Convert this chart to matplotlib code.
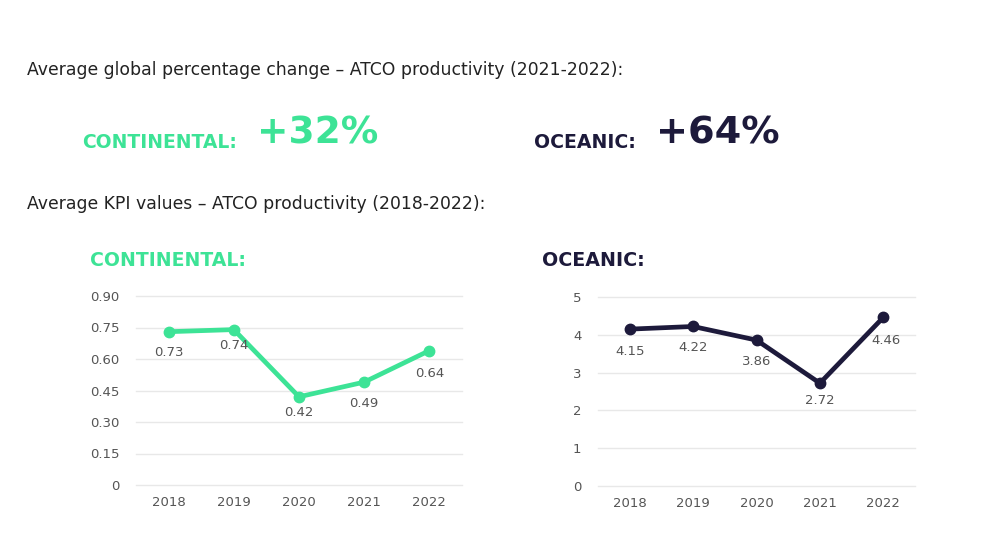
import matplotlib

matplotlib.use("Agg")
import matplotlib.pyplot as plt

# Data
years = ["2018", "2019", "2020", "2021", "2022"]
continental = [0.73, 0.74, 0.42, 0.49, 0.64]
oceanic = [4.15, 4.22, 3.86, 2.72, 4.46]
continental_ticks = [0, 0.15, 0.30, 0.45, 0.60, 0.75, 0.90]
continental_tick_labels = ["0", "0.15", "0.30", "0.45", "0.60", "0.75", "0.90"]
oceanic_ticks = [0, 1, 2, 3, 4, 5]
change_continental = "+32%"
change_oceanic = "+64%"

GREEN = "#3de396"
NAVY = "#1d1a3b"
TEXT = "#222222"
TICK = "#555555"
GRID = "#e8e8e8"

plt.rcParams["font.family"] = ["DejaVu Sans"]

fig = plt.figure(figsize=(9.9, 5.46), dpi=100)
fig.patch.set_facecolor("white")


def px(x, y):
    return x / 990, 1 - y / 546


# Header texts
fig.text(*px(27, 70), "Average global percentage change \u2013 ATCO productivity (2021-2022):",
         fontsize=12.4, color=TEXT, va="center", ha="left")
fig.text(*px(82, 143), "CONTINENTAL:", fontsize=13.5, fontweight="bold", color=GREEN,
         va="center", ha="left")
fig.text(*px(257, 134), change_continental, fontsize=27, fontweight="bold", color=GREEN,
         va="center", ha="left")
fig.text(*px(534, 143), "OCEANIC:", fontsize=13.6, fontweight="bold", color=NAVY,
         va="center", ha="left")
fig.text(*px(656, 134), change_oceanic, fontsize=27.5, fontweight="bold", color=NAVY,
         va="center", ha="left")
fig.text(*px(27, 204), "Average KPI values \u2013 ATCO productivity (2018-2022):",
         fontsize=12.4, color=TEXT, va="center", ha="left")
fig.text(*px(90, 260), "CONTINENTAL:", fontsize=13.6, fontweight="bold", color=GREEN,
         va="center", ha="left")
fig.text(*px(542, 260), "OCEANIC:", fontsize=13.7, fontweight="bold", color=NAVY,
         va="center", ha="left")


def draw_panel(rect, values, color, ticks, tick_labels, ylim, offsets):
    ax = fig.add_axes(rect)
    x = list(range(len(years)))
    ax.plot(x, values, color=color, lw=3.4, marker="o", markersize=7.5, zorder=3)
    for xi, v, (dx, dy) in zip(x, values, offsets):
        ax.annotate(f"{v:.2f}", (xi, v), xytext=(dx, dy), textcoords="offset pixels",
                    ha="center", va="center", fontsize=9.5, color=TICK)
    ax.set_xlim(-0.5, len(years) - 0.5)
    ax.set_ylim(*ylim)
    ax.set_xticks(x)
    ax.set_xticklabels(years)
    ax.set_yticks(ticks)
    ax.set_yticklabels(tick_labels)
    ax.tick_params(length=0, labelsize=9.5, labelcolor=TICK, pad=8)
    ax.tick_params(axis="y", pad=12)
    ax.grid(axis="y", color=GRID, lw=1)
    for line in ax.get_ygridlines():
        line.set_clip_on(False)
    ax.set_axisbelow(True)
    for s in ax.spines.values():
        s.set_visible(False)
    return ax


draw_panel([136 / 990, 1 - 485 / 546, 326 / 990, 189 / 546], continental, GREEN,
           continental_ticks, continental_tick_labels, (0, 0.9),
           [(0, -21), (0, -16), (0, -16), (0, -21), (0, -23)])
draw_panel([598 / 990, 1 - 486 / 546, 317 / 990, 189 / 546], oceanic, NAVY,
           oceanic_ticks, [str(t) for t in oceanic_ticks], (0, 5),
           [(0, -22), (0, -21), (0, -21), (0, -17), (3, -23)])

fig.savefig("out.png", dpi=100, facecolor="white")
